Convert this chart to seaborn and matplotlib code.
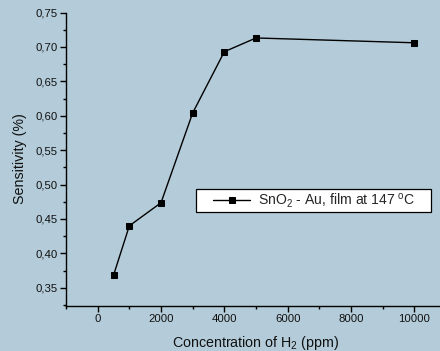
import numpy as np
import pandas as pd
import matplotlib
matplotlib.use("Agg")
import matplotlib.pyplot as plt
import seaborn as sns
from matplotlib.patches import Rectangle
from matplotlib.ticker import MultipleLocator, FixedLocator, FixedFormatter

# data
concentration = [500, 1000, 2000, 3000, 4000, 5000, 10000]
sensitivity = [0.368, 0.440, 0.4735, 0.604, 0.693, 0.713, 0.706]

x_ticks = [0, 2000, 4000, 6000, 8000, 10000]
y_ticks = [0.35, 0.40, 0.45, 0.50, 0.55, 0.60, 0.65, 0.70, 0.75]
y_tick_labels = ["0,35", "0,40", "0,45", "0,50", "0,55", "0,60", "0,65", "0,70", "0,75"]

series_label = "SnO$_2$ - Au, film at 147 $^{\\rm o}$C"

bg = "#b4ccd9"

sns.set_style("ticks")
plt.rcParams['font.family'] = ['Liberation Sans', 'DejaVu Sans']
plt.rcParams['mathtext.fontset'] = 'custom'
plt.rcParams['mathtext.rm'] = 'Liberation Sans'
plt.rcParams['mathtext.it'] = 'Liberation Sans'

df = pd.DataFrame({"conc": concentration, "sens": sensitivity})

W, H = 440, 351
fig = plt.figure(figsize=(4.4, 3.51), dpi=100, facecolor=bg)
ax = fig.add_axes([66 / W, 1 - 305.5 / H, 380 / W, (305.5 - 12.5) / H])
ax.set_facecolor(bg)

sns.lineplot(data=df, x="conc", y="sens", ax=ax, color="black", linewidth=1.0,
             marker="s", markersize=4.5, markeredgecolor="black",
             label=series_label)

ax.set_xlim(-1000, 11000)
ax.set_ylim(0.3242, 0.75)

ax.xaxis.set_major_locator(FixedLocator(x_ticks))
ax.xaxis.set_minor_locator(MultipleLocator(1000))
ax.yaxis.set_major_locator(FixedLocator(y_ticks))
ax.yaxis.set_major_formatter(FixedFormatter(y_tick_labels))
ax.yaxis.set_minor_locator(MultipleLocator(0.025))

ax.tick_params(axis="both", which="major", length=4, width=1, labelsize=8.2, pad=2,
               direction="out", color="black", labelcolor="#111111")
ax.tick_params(axis="both", which="minor", length=2, width=1, direction="out",
               color="black")

for side in ["top", "right"]:
    ax.spines[side].set_visible(False)
for side in ["left", "bottom"]:
    ax.spines[side].set_linewidth(1.0)
    ax.spines[side].set_color("black")

ax.set_xlabel("Concentration of H$_2$ (ppm)", fontsize=10.3, labelpad=7, color="#111111")
ax.set_ylabel("Sensitivity (%)", fontsize=10.3, labelpad=6, color="#111111")

# legend box drawn by hand so the padding matches the reference
frame = Rectangle((196 / W, 1 - 212 / H), (431 - 196) / W, (212 - 189) / H,
                  transform=fig.transFigure, facecolor="white", edgecolor="black",
                  linewidth=0.9, zorder=4)
fig.add_artist(frame)
leg = ax.legend(loc="center left", bbox_to_anchor=(213 / W, 1 - 200.5 / H),
                bbox_transform=fig.transFigure, fontsize=10.1, frameon=False,
                borderpad=0, borderaxespad=0, handlelength=2.66, handletextpad=0.55)
leg.set_zorder(5)
leg.remove()
fig.add_artist(leg)

fig.savefig("out.png", dpi=100, facecolor=bg)
